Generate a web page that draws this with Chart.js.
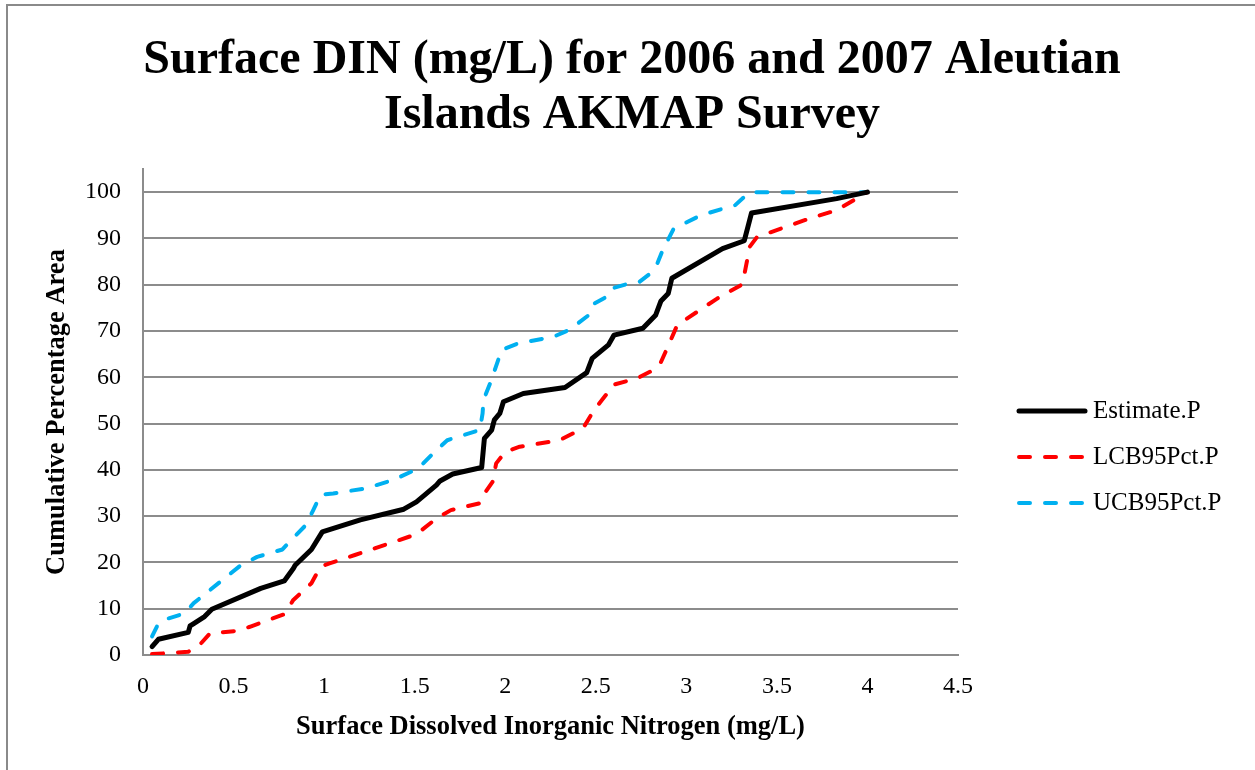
<!DOCTYPE html>
<html>
<head>
<meta charset="utf-8">
<title>Surface DIN</title>
<script src="https://cdn.jsdelivr.net/npm/chart.js@4/dist/chart.umd.min.js"></script>
<style>
    body { margin: 0; background: #fff; overflow: hidden; }
    #wrap { position: relative; width: 1255px; height: 770px; }
    #frame {
        position: absolute; left: 6px; top: 4px; width: 1300px; height: 800px;
        border-left: 2px solid #8a8a8a; border-top: 2px solid #8a8a8a;
        pointer-events: none;
    }
</style>
</head>
<body>
<div id="wrap">
    <canvas id="dinChart" width="1255" height="770"></canvas>
    <div id="frame"></div>
</div>
<script>
        // Cumulative distribution of surface DIN, with 95% confidence bounds
        const estimateX = [0.05, 0.085, 0.25, 0.26, 0.28, 0.34, 0.38, 0.65, 0.78, 0.83, 0.84, 0.93, 0.99, 1.20, 1.44, 1.51, 1.62, 1.64, 1.71, 1.87, 1.885, 1.925, 1.94, 1.97, 1.99, 2.10, 2.33, 2.45, 2.48, 2.57, 2.60, 2.76, 2.83, 2.86, 2.90, 2.92, 3.20, 3.32, 3.34, 3.36, 3.83, 4.0];
        const estimateY = [1.8, 3.4, 4.9, 6.3, 6.8, 8.3, 9.9, 14.4, 16.0, 18.7, 19.4, 22.8, 26.6, 29.2, 31.5, 33.1, 36.7, 37.6, 39.1, 40.5, 46.8, 48.6, 50.8, 52.2, 54.7, 56.5, 57.8, 61.0, 64.1, 67.0, 69.1, 70.6, 73.4, 76.5, 78.1, 81.4, 87.8, 89.5, 92.5, 95.5, 98.6, 100];

        const lcbX = [0.05, 0.25, 0.32, 0.37, 0.52, 0.59, 0.78, 0.83, 0.93, 0.98, 1.03, 1.17, 1.36, 1.51, 1.62, 1.70, 1.86, 1.88, 1.93, 1.95, 2.0, 2.08, 2.30, 2.43, 2.49, 2.57, 2.59, 2.73, 2.82, 2.86, 2.90, 2.95, 3.17, 3.31, 3.35, 3.39, 3.68, 3.83, 4.0];
        const lcbY = [0.2, 0.7, 2.5, 4.7, 5.2, 6.1, 8.8, 11.9, 15.5, 19.1, 19.8, 21.6, 24.1, 26.1, 29.5, 31.3, 32.8, 34.6, 37.4, 41.4, 43.9, 45.0, 46.4, 49.0, 52.9, 56.9, 58.3, 59.8, 61.6, 63.3, 66.8, 71.3, 77.0, 80.1, 88.2, 90.3, 94.3, 96.1, 100];

        const ucbX = [0.05, 0.085, 0.14, 0.23, 0.28, 0.54, 0.63, 0.77, 0.81, 0.90, 0.94, 0.98, 1.05, 1.23, 1.38, 1.52, 1.60, 1.68, 1.86, 1.875, 1.88, 1.92, 1.98, 2.07, 2.27, 2.35, 2.39, 2.46, 2.49, 2.56, 2.59, 2.67, 2.74, 2.80, 2.84, 2.87, 2.93, 3.08, 3.27, 3.34, 3.37, 4.0];
        const ucbY = [4.0, 6.8, 7.9, 9.0, 11.2, 19.4, 21.2, 22.8, 24.5, 28.1, 31.3, 34.6, 34.9, 36.0, 37.8, 40.3, 43.5, 46.4, 48.6, 52.2, 55.1, 59.0, 65.9, 67.3, 68.8, 70.2, 71.3, 73.4, 75.9, 77.4, 79.2, 80.1, 80.6, 82.4, 84.6, 87.5, 92.1, 95.0, 97.2, 99.7, 100, 100];

        const seriesNames = ['Estimate.P', 'LCB95Pct.P', 'UCB95Pct.P'];
        const xTicks = [0, 0.5, 1, 1.5, 2, 2.5, 3, 3.5, 4, 4.5];
        const yTicks = [0, 10, 20, 30, 40, 50, 60, 70, 80, 90, 100];
        const titleLines = ['Surface DIN (mg/L) for 2006 and 2007 Aleutian', 'Islands AKMAP Survey'];

        const serif = '"Liberation Serif", "Times New Roman", serif';
        const gridColor = '#8c8c8c';

        function toPoints(xs, ys) {
            return xs.map((x, i) => ({ x: x, y: ys[i] }));
        }

        // title centred on the whole page, not just the plot
        const pageTitle = {
            id: 'pageTitle',
            afterDraw(chart) {
                const ctx = chart.ctx;
                ctx.save();
                ctx.fillStyle = '#000';
                ctx.font = 'bold 48px ' + serif;
                ctx.textAlign = 'center';
                ctx.textBaseline = 'alphabetic';
                titleLines.forEach((line, i) => {
                    ctx.fillText(line, 632, 73 + i * 55);
                });
                ctx.restore();
            }
        };

        // legend drawn at the right, one row per series
        const sideLegend = {
            id: 'sideLegend',
            afterDraw(chart) {
                const ctx = chart.ctx;
                const rows = [411, 457, 503];
                ctx.save();
                chart.data.datasets.forEach((ds, i) => {
                    const y = rows[i];
                    ctx.beginPath();
                    ctx.strokeStyle = ds.borderColor;
                    ctx.lineWidth = ds.borderWidth;
                    ctx.lineCap = 'round';
                    ctx.setLineDash(ds.borderDash || []);
                    ctx.moveTo(1019, y);
                    ctx.lineTo(1085, y);
                    ctx.stroke();
                    ctx.setLineDash([]);
                    ctx.fillStyle = '#000';
                    ctx.font = '25px ' + serif;
                    ctx.textAlign = 'left';
                    ctx.textBaseline = 'middle';
                    ctx.fillText(ds.label, 1093, y);
                });
                ctx.restore();
            }
        };

        const ctx = document.getElementById('dinChart').getContext('2d');
        const chart = new Chart(ctx, {
            type: 'line',
            data: {
                datasets: [
                    {
                        label: seriesNames[0],
                        data: toPoints(estimateX, estimateY),
                        borderColor: '#000000',
                        backgroundColor: '#000000',
                        borderWidth: 5,
                        borderJoinStyle: 'round',
                        borderCapStyle: 'round',
                        pointRadius: 0,
                        tension: 0
                    },
                    {
                        label: seriesNames[1],
                        data: toPoints(lcbX, lcbY),
                        borderColor: '#ff0000',
                        backgroundColor: '#ff0000',
                        borderWidth: 4,
                        borderDash: [11, 15],
                        borderJoinStyle: 'round',
                        borderCapStyle: 'round',
                        pointRadius: 0,
                        tension: 0
                    },
                    {
                        label: seriesNames[2],
                        data: toPoints(ucbX, ucbY),
                        borderColor: '#00b0f0',
                        backgroundColor: '#00b0f0',
                        borderWidth: 4,
                        borderDash: [11, 15],
                        borderJoinStyle: 'round',
                        borderCapStyle: 'round',
                        pointRadius: 0,
                        tension: 0
                    }
                ]
            },
            options: {
                responsive: false,
                animation: false,
                layout: {
                    padding: { left: 41, right: 297, top: 169, bottom: 27 }
                },
                scales: {
                    x: {
                        type: 'linear',
                        min: 0,
                        max: 4.5,
                        afterBuildTicks: (scale) => { scale.ticks = xTicks.map(v => ({ value: v })); },
                        afterFit: (scale) => { scale.height = 88; },
                        grid: { display: false, drawTicks: false },
                        border: { display: true, color: gridColor, width: 2 },
                        ticks: {
                            padding: 17,
                            color: '#000',
                            font: { family: serif, size: 24 },
                            maxRotation: 0,
                            callback: (v) => String(v)
                        },
                        title: {
                            display: true,
                            text: 'Surface Dissolved Inorganic Nitrogen (mg/L)',
                            color: '#000',
                            padding: 0,
                            font: { family: serif, size: 26.5, weight: 'bold' }
                        }
                    },
                    y: {
                        min: 0,
                        max: 105,
                        afterBuildTicks: (scale) => { scale.ticks = yTicks.map(v => ({ value: v })); },
                        afterFit: (scale) => { scale.width = 102; },
                        grid: { color: gridColor, lineWidth: 2, drawTicks: false },
                        border: { display: true, color: gridColor, width: 2 },
                        ticks: {
                            padding: 22,
                            color: '#000',
                            font: { family: serif, size: 24 },
                            callback: (v) => String(v)
                        },
                        title: {
                            display: true,
                            text: 'Cumulative Percentage Area',
                            color: '#000',
                            padding: 0,
                            font: { family: serif, size: 26.5, weight: 'bold' }
                        }
                    }
                },
                plugins: {
                    legend: { display: false },
                    tooltip: { enabled: false },
                    title: { display: false }
                }
            },
            plugins: [pageTitle, sideLegend]
        });
</script>
</body>
</html>
